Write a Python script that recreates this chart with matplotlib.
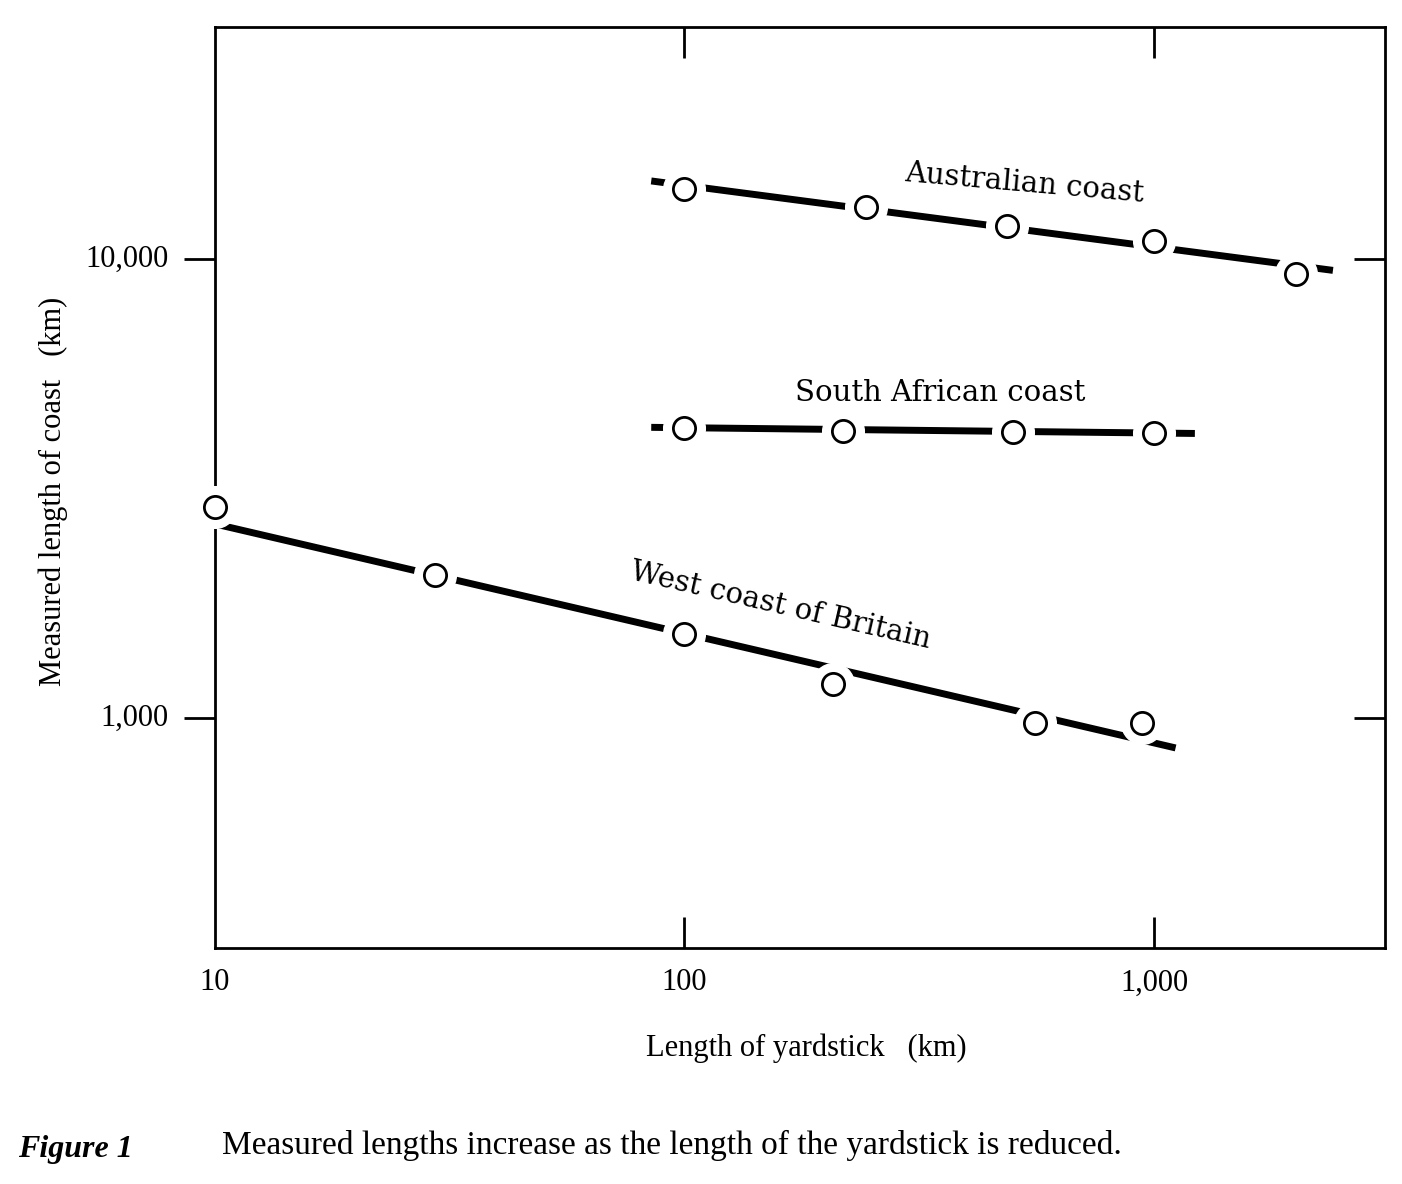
import matplotlib.pyplot as plt
from matplotlib.ticker import FixedLocator, NullLocator

# Australian coast
aus_x = [100, 243, 487, 1000, 2000]
aus_y = [14200, 13000, 11800, 10950, 9270]
aus_line_x = [85, 2400]
aus_line_y = [14800, 9450]

# South African coast
sa_x = [100, 218, 500, 1000]
sa_y = [4290, 4230, 4200, 4180]
sa_line_x = [85, 1220]
sa_line_y = [4300, 4170]

# West coast of Britain
gb_x = [10, 29.4, 100, 207, 558, 942]
gb_y = [2880, 2050, 1525, 1185, 975, 975]
gb_line_x = [10, 1110]
gb_line_y = [2650, 861]

plt.rcParams["font.family"] = ["DejaVu Serif"]
fig = plt.figure(figsize=(14.02, 11.84), dpi=100)
ax = fig.add_axes([0.153, 0.199, 0.835, 0.778])
ax.set_xscale("log")
ax.set_yscale("log")
ax.set_xlim(10, 3100)
ax.set_ylim(315, 32000)

for lx, ly, px, py in [(aus_line_x, aus_line_y, aus_x, aus_y),
                       (sa_line_x, sa_line_y, sa_x, sa_y),
                       (gb_line_x, gb_line_y, gb_x, gb_y)]:
    ax.plot(lx, ly, color="black", lw=5, solid_capstyle="butt", zorder=2)
    ax.plot(px, py, "o", ms=30, color="white", mec="white", zorder=3, clip_on=False)
    ax.plot(px, py, "o", ms=16, mfc="white", mec="black", mew=2, zorder=4, clip_on=False)

for s in ax.spines.values():
    s.set_linewidth(2)

ax.xaxis.set_major_locator(FixedLocator([100, 1000]))
ax.xaxis.set_minor_locator(NullLocator())
ax.yaxis.set_major_locator(FixedLocator([1000, 10000]))
ax.yaxis.set_minor_locator(NullLocator())
ax.tick_params(axis="x", direction="in", top=True, length=22, width=2, labelbottom=False)
ax.tick_params(axis="y", direction="out", right=True, length=22, width=2, labelleft=False)
for t in ax.yaxis.get_ticklines()[1::2]:
    t.set_marker(0)  # right ticks point inward

for xv, lab in [(10, "10"), (100, "100"), (1000, "1,000")]:
    ax.text(xv, 265, lab, ha="center", va="center", fontsize=22, family="Liberation Serif")
for yv, lab in [(10000, "10,000"), (1000, "1,000")]:
    ax.text(8.0, yv, lab, ha="right", va="center", fontsize=22, family="Liberation Serif")

ax.text(530, 12900, "Australian coast", ha="center", va="bottom", fontsize=21, rotation=-5)
ax.text(350, 4750, "South African coast", ha="center", va="bottom", fontsize=21)
ax.text(160, 1380, "West coast of Britain", ha="center", va="bottom", fontsize=21, rotation=-13)

fig.text(0.575, 0.108, "Length of yardstick   (km)", ha="center", fontsize=22, family="Liberation Serif")
fig.text(0.038, 0.585, "Measured length of coast   (km)", rotation=90, ha="center", va="center",
         fontsize=22, family="Liberation Serif")
fig.text(0.013, 0.023, "Figure 1", fontsize=23, style="italic", weight="bold", family="Liberation Serif")
fig.text(0.158, 0.025, "Measured lengths increase as the length of the yardstick is reduced.",
         fontsize=24, family="Liberation Serif")

fig.savefig("out.png", dpi=100)
